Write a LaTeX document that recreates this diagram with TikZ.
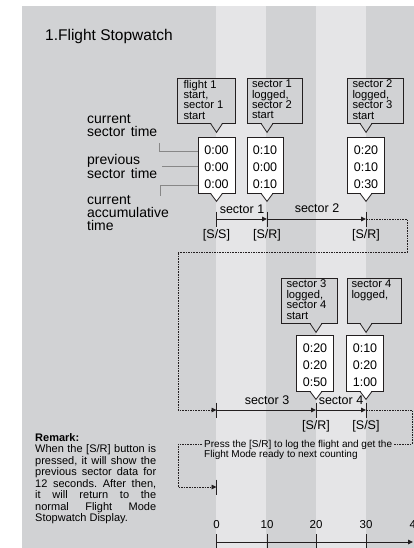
\documentclass[tikz,border=0pt]{standalone}
\usepackage{fontspec}
\setmainfont{Liberation Sans}
\usetikzlibrary{arrows.meta,calc}
\definecolor{bgdark}{RGB}{209,210,212}
\definecolor{bglight}{RGB}{229,229,231}
\definecolor{ink}{RGB}{35,31,32}
\definecolor{leadgray}{RGB}{135,135,135}
\frenchspacing
\tikzset{callout/.style={draw=ink, fill=bgdark, line width=0.8pt, inner sep=0pt, minimum height=45pt, minimum width=#1, font=\fontsize{11.2}{10.4}\selectfont},
  valbox/.style={draw=ink, fill=white, line width=0.8pt, inner sep=0pt, minimum width=37pt, minimum height=56pt, align=center, font=\fontsize{12.5}{17}\selectfont},
  seclabel/.style={inner sep=0pt, font=\fontsize{12.5}{13}\selectfont},
  side/.style={align=left, inner sep=0pt, anchor=west, font={\fontsize{14}{13}\selectfont\spaceskip=5.5pt\relax}},
  leader/.style={draw=leadgray, line width=0.8pt},
  tick/.style={draw=ink, line width=1pt},
  tip/.style={-{Triangle[length=5pt,width=4.5pt]}},
  arr/.style={draw=ink, line width=0.9pt, tip},
  dashline/.style={draw=ink, line width=0.8pt, dash pattern=on 1.6pt off 1pt}}
% box text, top aligned
\newcommand{\notetext}[1]{\parbox[c][41pt][t]{45pt}{\raggedright #1}}
% pointer under a box: node, x reference, fill, depth
\newcommand{\notch}[4]{%
  \fill[#3] ($(#1.south -| #2)+(-5.6,-0.5)$) -- ($(#1.south -| #2)+(5.6,-0.5)$) -- ($(#1.south -| #2)+(0,#4)$) -- cycle;
  \draw[ink, line width=0.8pt] ($(#1.south -| #2)+(-6,0)$) -- ($(#1.south -| #2)+(0,#4)$) -- ($(#1.south -| #2)+(6,0)$);}

\begin{document}
\begin{tikzpicture}[x=1pt,y=-1pt]
  \useasboundingbox (0,0) rectangle (414,548);
  \fill[bgdark] (22,6) rectangle (414,548);
  \foreach \x in {216,316}
    \fill[bglight] (\x,6) rectangle ++(50,542);

  \node[anchor=base west, inner sep=0pt, font=\fontsize{15.5}{16}\selectfont] (title) at (45,40.5) {1.Flight Stopwatch};

  \coordinate (s0) at (216.5,0);
  \coordinate (s10) at (267,0);
  \coordinate (s20) at (316,0);
  \coordinate (s30) at (366,0);

  % first row
  \node[callout=58pt] (c1) at (206,100.5) {\notetext{flight 1\\start,\\sector 1\\start}};
  \node[callout=55pt] (c2) at (274.5,100.5) {\notetext{sector 1\\logged,\\sector 2\\start}};
  \node[callout=56pt] (c3) at (375,100.5) {\notetext{sector 2\\logged,\\sector 3\\start}};
  \notch{c1}{s0}{bgdark}{9}
  \notch{c2}{s10}{bgdark}{9}
  \notch{c3}{s30}{bgdark}{9}

  \node[valbox] (v1) at (216.5,165) {\rule{0pt}{13pt}0:00\\0:00\\0:00};
  \node[valbox, minimum width=36pt] (v2) at (265,165) {\rule{0pt}{13pt}0:10\\0:00\\0:10};
  \node[valbox] (v3) at (366,165) {\rule{0pt}{13pt}0:20\\0:10\\0:30};
  \notch{v1}{s0}{white}{8}
  \notch{v2}{s10}{white}{8}
  \notch{v3}{s30}{white}{8}

  \node[side] (lab1) at (87,126) {current\\sector time};
  \node[side] (lab2) at (87,166.5) {previous\\sector time};
  \node[side] (lab3) at (87,213.5) {current\\accumulative\\time};
  \draw[leader] (lab1.south east) ++(2,6) |- (v1.west |- 0,151);
  \draw[leader] ([xshift=5pt]lab2.east) -- (v1.west |- lab2.east);
  \draw[leader] (v1.west |- 0,185) -| ($(lab3.north west)+(73,0)$);

  \coordinate (p1) at (216.5,219);
  \coordinate (p2) at (267,219);
  \coordinate (p3) at (366,219);
  \node[seclabel] (l1) at (242,209) {sector 1};
  \node[seclabel] (l2) at (317,208) {sector 2};
  \node[seclabel] (b1) at (216.5,235) {[S/S]};
  \node[seclabel] (b2) at (267,235) {[S/R]};
  \node[seclabel] (b3) at (366,235) {[S/R]};

  % second row
  \node[callout=56pt] (c4) at (309,300.5) {\notetext{sector 3\\logged,\\sector 4\\start}};
  \node[callout=54pt] (c5) at (374,300.5) {\notetext{sector 4\\logged,}};
  \notch{c4}{s20}{bgdark}{9}
  \notch{c5}{s30}{bgdark}{9}

  \node[valbox] (v4) at (315,363) {\rule{0pt}{13pt}0:20\\0:20\\0:50};
  \node[valbox] (v5) at (365,363) {\rule{0pt}{13pt}0:10\\0:20\\1:00};
  \notch{v4}{s20}{white}{8}
  \notch{v5}{s30}{white}{8}

  \coordinate (q1) at (216.5,410);
  \coordinate (q2) at (316,410);
  \coordinate (q3) at (366,410);
  \coordinate (r1) at (216.5,487);
  \node[seclabel] (l3) at (267,400) {sector 3};
  \node[seclabel] (l4) at (341,400) {sector 4};
  \node[seclabel] (b4) at (316,426) {[S/R]};
  \node[seclabel] (b5) at (366,426) {[S/S]};

  \foreach \p in {p1,p2,p3,q1,q2,q3,r1}
    \draw[tick] (\p) ++(0,-7.5) -- ++(0,15);
  \draw[arr] (p1) -- (p2);
  \draw[arr] (p2) -- (p3);
  \draw[arr] (q1) -- (q2);
  \draw[arr] (q2) -- (q3);

  \coordinate (k1) at (178,252);
  \coordinate (k2) at (178,444);
  \node[anchor=north west, inner xsep=2pt, inner ysep=0pt, align=left, font=\fontsize{10}{10}\selectfont] (press) at (202,440.5) {Press the [S/R] to log the flight and get the\\Flight Mode ready to next counting};
  \draw[dashline, tip] (p3) -- ++(41,0) |- (k1) |- (q1);
  \draw[dashline] (q3) -- ++(46,0) |- (press.east |- k2);
  \draw[dashline, tip] (press.west |- k2) -- (k2) |- (r1);

  \node[anchor=north west, inner sep=0pt, text width=121pt, align=justify, font=\fontsize{11}{11.5}\selectfont] (remark) at (35,433)
    {\textbf{Remark:}\\When the [S/R] button is\linebreak pressed, it will show the\linebreak previous sector data for\linebreak 12 seconds. After then,\linebreak it will return to the\linebreak normal Flight Mode\linebreak Stopwatch Display.};

  % scale
  \draw[arr] (216.5,542) -- (413,542);
  \foreach \x/\t in {216.5/0,267/10,316/20,366/30,416/40} {
    \draw[tick] (\x,534) -- (\x,548);
    \node[seclabel, font=\fontsize{11.5}{12}\selectfont] (m\t) at (\x,525) {\t};
  }
\end{tikzpicture}
\end{document}
